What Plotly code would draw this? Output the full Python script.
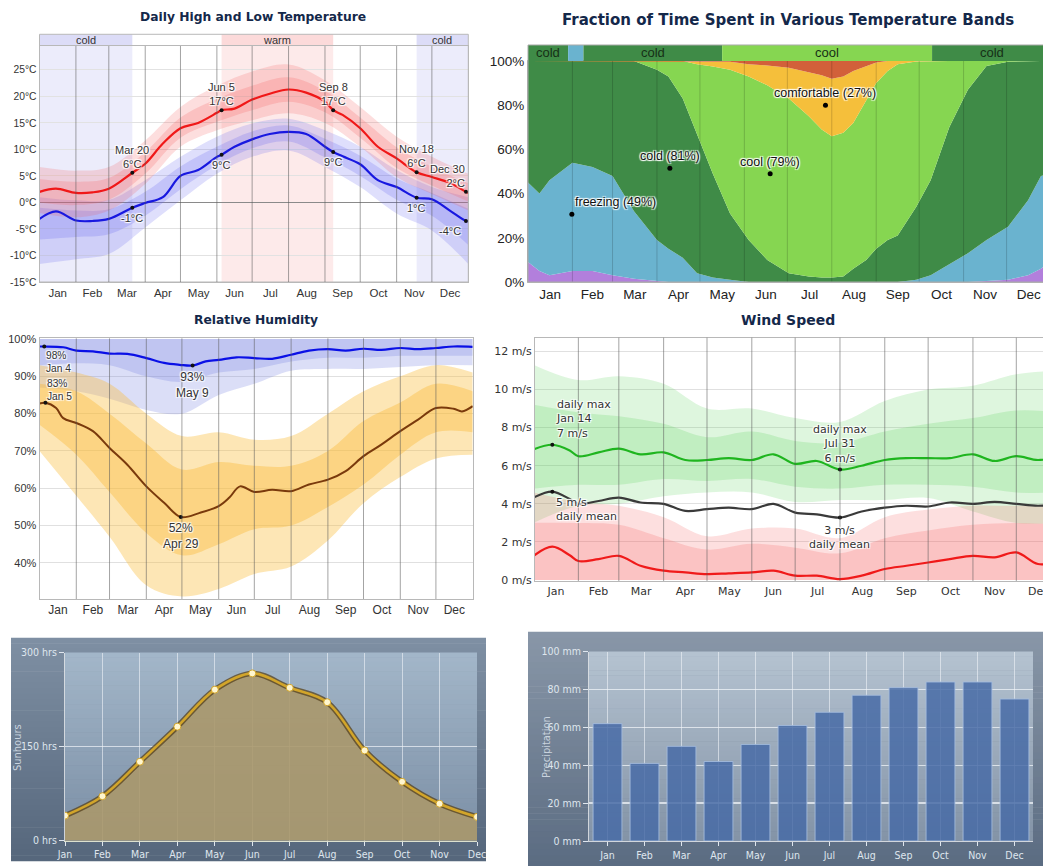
import plotly.graph_objects as go

W, H = 1051, 866

MONTHS = ["Jan", "Feb", "Mar", "Apr", "May", "Jun", "Jul", "Aug", "Sep", "Oct", "Nov", "Dec"]
month_start_days = [0, 31, 59, 90, 120, 151, 181, 212, 243, 273, 304, 334, 365]
month_mid_days = [15.5, 45, 74.5, 105, 135.5, 166, 196.5, 227.5, 258, 288.5, 319, 349.5]
band_days = [0, 31, 59, 90, 120, 151, 181, 212, 243, 273, 304, 334, 365]

# ---------------- Panel 1: daily high / low temperature ----------------
temp_ticks = [-15, -10, -5, 0, 5, 10, 15, 20, 25]
temp_tick_text = ["-15°C", "-10°C", "-5°C", "0°C", "5°C", "10°C", "15°C", "20°C", "25°C"]
temp_days = [0, 14, 31, 45, 59, 79, 90, 105, 120, 135, 151, 155, 166, 181, 196, 212, 227, 243, 250, 258, 273, 288, 304, 321, 334, 349, 363, 365]
temp_high = [2.0, 2.6, 1.8, 1.9, 2.6, 5.6, 7.3, 11.1, 14.0, 15.0, 16.9, 17.4, 17.7, 19.4, 20.5, 21.3, 20.7, 19.0, 17.4, 16.5, 14.0, 10.5, 8.3, 5.7, 4.8, 3.7, 2.0, 1.8]
temp_low = [-3.1, -1.7, -3.4, -3.5, -3.1, -1.0, -0.1, 1.0, 5.0, 6.1, 8.6, 9.0, 10.5, 11.9, 12.9, 13.3, 12.9, 10.5, 9.5, 8.7, 7.2, 4.2, 2.9, 0.9, 0.6, -1.5, -3.5, -3.5]
high_p10 = [-2.0, -2.8, -1.5, 3.5, 10.5, 13.6, 15.5, 16.8, 15.0, 10.5, 4.8, 1.6, -1.5]
high_p25 = [0.0, -0.5, 0.5, 5.4, 12.2, 15.2, 17.4, 19.0, 17.0, 12.2, 6.5, 3.2, 0.2]
high_p75 = [4.4, 3.9, 4.6, 9.5, 16.0, 19.5, 22.0, 23.6, 21.0, 16.0, 10.4, 6.7, 3.6]
high_p90 = [6.7, 6.0, 6.7, 11.7, 18.0, 22.0, 24.7, 26.0, 23.0, 18.0, 12.4, 8.6, 5.4]
low_p10 = [-11.6, -10.7, -9.7, -4.7, 0.4, 5.4, 8.6, 9.8, 6.7, 2.9, -2.1, -5.3, -11.6]
low_p25 = [-7.0, -6.5, -6.0, -2.5, 2.5, 7.0, 10.2, 11.5, 8.5, 5.0, 0.5, -2.5, -8.0]
low_p75 = [-1.0, -1.5, -1.3, 2.0, 6.8, 10.5, 13.4, 14.5, 12.0, 8.8, 4.5, 1.8, -1.2]
low_p90 = [1.0, 0.4, 0.5, 4.2, 8.6, 12.4, 14.9, 15.8, 13.6, 10.5, 6.1, 2.9, 1.0]
temp_season_labels = ["cold", "warm", "cold"]
temp_season_start = [0, 155, 321]
temp_season_end = [79, 250, 365]
temp_note_days = [79, 155, 250, 321, 363]
temp_note_dates = ["Mar 20", "Jun 5", "Sep 8", "Nov 18", "Dec 30"]
temp_note_high = [5.6, 17.4, 17.4, 5.7, 2.0]
temp_note_high_text = ["6°C", "17°C", "17°C", "6°C", "2°C"]
temp_note_low = [-1.0, 9.0, 9.5, 0.9, -3.5]
temp_note_low_text = ["-1°C", "9°C", "9°C", "1°C", "-4°C"]

# ---------------- Panel 2: fraction of time in temperature bands ----------------
frac_days = [0, 8, 15, 31, 45, 59, 74, 90, 98, 108, 118, 129, 141, 154, 167, 182, 196, 205, 212, 220, 227, 236, 243, 251, 258, 271, 281, 294, 307, 320, 335, 349, 358, 365]
frac_frigid = [9, 5, 3, 5, 5, 3, 1.5, 0.5, 0, 0, 0, 0, 0, 0, 0, 0, 0, 0, 0, 0, 0, 0, 0, 0, 0, 0, 0, 0, 0, 0.5, 1, 3, 6, 10]
frac_freezing = [45, 40, 46, 54, 52, 48, 32, 19, 15, 11, 4, 2, 1, 0, 0, 0, 0, 0, 0, 0, 0, 0, 0, 0, 0, 1, 3, 8, 13, 19, 25, 37, 48, 49]
frac_cold = [100, 100, 100, 100, 100, 100, 100, 96, 93, 83, 67, 49, 31, 19, 10, 4, 2.5, 2, 2, 2.5, 6, 10, 15, 19, 21, 34, 46, 70, 87, 97.7, 99.7, 100, 100, 100]
frac_cool = [100, 100, 100, 100, 100, 100, 100, 100, 100, 100, 98.5, 97.5, 96, 93, 89, 83, 75, 69, 66, 67.5, 72, 82, 90, 95.5, 98.5, 99.8, 100, 100, 100, 100, 100, 100, 100, 100]
frac_comfortable = [100, 100, 100, 100, 100, 100, 100, 100, 100, 100, 100, 100, 99.7, 98.5, 98, 97, 95, 93.5, 92, 93, 95.5, 97.5, 99.3, 100, 100, 100, 100, 100, 100, 100, 100, 100, 100, 100]
frac_strip_labels = ["cold", "", "cold", "cool", "cold"]
frac_strip_bands = ["cold", "freezing", "cold", "cool", "cold"]
frac_strip_start = [0, 28, 38.7, 135.5, 282]
frac_strip_end = [28, 38.7, 135.5, 282, 365]
frac_note_days = [30.6, 99, 169, 207.6]
frac_note_vals = [30.6, 51.5, 49, 80]
frac_note_text = ["freezing (49%)", "cold (81%)", "cool (79%)", "comfortable (27%)"]

# ---------------- Panel 3: relative humidity ----------------
hum_high_days = [0, 4, 20, 31, 45, 59, 74, 90, 105, 118, 129, 140, 151, 166, 181, 196, 212, 227, 243, 258, 273, 288, 304, 319, 334, 349, 365]
hum_high = [98.0, 98.0, 97.8, 96.9, 96.7, 96.1, 96.0, 94.9, 93.6, 93.1, 92.9, 94.0, 94.4, 95.1, 94.9, 94.7, 95.8, 96.9, 97.3, 96.9, 97.4, 97.1, 97.6, 97.3, 97.6, 98.0, 97.9]
hum_low_days = [0, 5, 14, 20, 31, 45, 59, 74, 90, 105, 119, 135, 151, 160, 169, 181, 196, 212, 227, 243, 258, 273, 288, 304, 319, 334, 349, 356, 365]
hum_low = [82.7, 82.9, 81.5, 78.8, 77.5, 75.3, 70.8, 66.3, 60.5, 56.1, 52.3, 53.4, 55.2, 57.5, 60.5, 59.0, 59.6, 59.2, 61.0, 62.3, 64.6, 68.6, 71.7, 75.3, 78.4, 81.5, 81.3, 80.6, 82.0]
hum_high_top = [100, 100, 100, 100, 100, 100, 100, 100, 100, 100, 100, 100, 100]
hum_high_inner_lo = [93, 93.5, 93, 90, 88.5, 91, 92, 94, 95, 95, 95.5, 95.5, 95.5]
hum_high_outer_lo = [87, 86, 84, 81, 80, 85, 88, 91.5, 92, 92, 92.5, 93, 93]
hum_low_outer_hi = [93, 91, 88, 80, 74, 75, 73, 74, 80, 86, 90, 93, 91]
hum_low_inner_hi = [88, 86, 80, 72, 65, 67, 66, 66, 70, 78, 83, 88, 86]
hum_low_inner_lo = [77, 69, 59, 48, 42, 45, 49, 50, 55, 61, 69, 75, 75]
hum_low_outer_lo = [70, 58, 47, 34, 31, 33, 37, 39, 46, 56, 63, 68, 69]
hum_high_note_days = [4, 129]
hum_high_note_vals = [98.0, 92.9]
hum_high_note_text = ["98%<br>Jan 4", "93%<br>May 9"]
hum_low_note_days = [5, 119]
hum_low_note_vals = [82.9, 52.3]
hum_low_note_text = ["83%<br>Jan 5", "52%<br>Apr 29"]

# ---------------- Panel 4: wind speed ----------------
wind_days = [0, 13, 25, 31, 45, 59, 74, 90, 105, 120, 135, 151, 166, 181, 196, 212, 227, 243, 258, 273, 288, 304, 319, 334, 349, 365]
wind_max = [6.86, 7.1, 6.8, 6.5, 6.7, 6.9, 6.6, 6.7, 6.3, 6.3, 6.4, 6.3, 6.6, 6.1, 6.25, 5.8, 6.0, 6.3, 6.4, 6.4, 6.4, 6.6, 6.25, 6.5, 6.3, 6.5]
wind_mean = [4.33, 4.64, 4.25, 4.0, 4.15, 4.33, 4.07, 4.0, 3.63, 3.72, 3.8, 3.72, 4.0, 3.54, 3.45, 3.28, 3.6, 3.8, 3.9, 3.86, 4.07, 4.0, 4.1, 4.0, 3.9, 4.0]
wind_min = [1.27, 1.75, 1.3, 1.0, 1.1, 1.27, 0.75, 0.49, 0.4, 0.31, 0.35, 0.4, 0.49, 0.23, 0.23, 0.05, 0.23, 0.58, 0.75, 0.92, 1.1, 1.27, 1.19, 1.45, 0.84, 1.0]
wind_max_p90 = [11.3, 10.5, 10.7, 10.3, 9.0, 9.0, 8.5, 8.3, 9.4, 10.0, 10.2, 10.8, 11.0]
wind_max_p75 = [9.2, 8.8, 8.6, 8.2, 7.5, 7.8, 7.3, 7.2, 7.8, 8.2, 8.5, 8.9, 8.8]
wind_max_p25 = [4.8, 5.0, 5.0, 5.3, 5.2, 5.3, 4.9, 4.8, 5.0, 5.0, 4.9, 4.6, 4.6]
wind_max_p10 = [3.0, 3.9, 4.0, 4.4, 4.6, 4.6, 4.1, 4.2, 4.2, 4.3, 3.6, 3.0, 3.0]
wind_min_p90 = [4.6, 4.1, 3.9, 3.3, 2.3, 2.7, 2.7, 2.2, 3.3, 3.7, 3.9, 3.9, 4.0]
wind_min_p75 = [3.0, 3.0, 2.9, 2.2, 1.6, 1.9, 1.7, 1.4, 2.2, 2.6, 2.9, 3.0, 2.9]
wind_min_p0 = [0, 0, 0, 0, 0, 0, 0, 0, 0, 0, 0, 0, 0]
wind_note_days = [13, 212]
wind_note_max = [7.1, 5.8]
wind_note_max_text = ["daily max<br>Jan 14<br>7 m/s", "daily max<br>Jul 31<br>6 m/s"]
wind_note_mean = [4.64, 3.28]
wind_note_mean_text = ["5 m/s<br>daily mean", "3 m/s<br>daily mean"]

# ---------------- Panel 5 / 6: sunshine hours & precipitation ----------------
sun_hours = [40, 71, 126, 182, 241, 267, 244, 221, 144, 94, 59, 38]
precip_mm = [62, 41, 50, 42, 51, 61, 68, 77, 81, 84, 84, 75]

# ======================================================================
fig = go.Figure()
shapes = []
annotations = []

OFF = 8  # page offset of the plot div inside the browser window


def fx(p):
    return (p - OFF) / W


def fy(p):
    return 1 - (p - OFF) / H


HALO = "1px 1px 1px #fff, -1px -1px 1px #fff, 1px -1px 1px #fff, -1px 1px 1px #fff"
SANS = "Liberation Sans, Arial, sans-serif"
VERD = "DejaVu Sans, Verdana, sans-serif"
NARROW = "Liberation Sans Narrow, DejaVu Sans Condensed, sans-serif"


def add_band(xs, lo, hi, color, xa, ya, shape="spline"):
    fig.add_trace(go.Scatter(x=xs, y=lo, mode="lines", line=dict(width=0, shape=shape),
                             hoverinfo="skip", xaxis=xa, yaxis=ya))
    fig.add_trace(go.Scatter(x=xs, y=hi, mode="lines", line=dict(width=0, shape=shape),
                             fill="tonexty", fillcolor=color, hoverinfo="skip", xaxis=xa, yaxis=ya))


def add_line(xs, ys, color, width, xa, ya, shape="spline"):
    fig.add_trace(go.Scatter(x=xs, y=ys, mode="lines", line=dict(color=color, width=width, shape=shape),
                             hoverinfo="skip", xaxis=xa, yaxis=ya))


def add_dots(xs, ys, xa, ya, size=4, color="#111"):
    fig.add_trace(go.Scatter(x=xs, y=ys, mode="markers", marker=dict(size=size, color=color),
                             hoverinfo="skip", xaxis=xa, yaxis=ya))


def note(x, y, text, xr, yr, xanchor="center", yanchor="bottom", xshift=0, yshift=0,
         size=11, family=SANS, color="#333", halo=True, align="center"):
    f = dict(size=size, family=family, color=color)
    if halo:
        f["shadow"] = HALO
    annotations.append(dict(x=x, y=y, xref=xr, yref=yr, text=text, showarrow=False,
                            xanchor=xanchor, yanchor=yanchor, xshift=xshift, yshift=yshift,
                            font=f, align=align, borderpad=0))


def month_lines(xr, yr, color):
    for d in month_start_days[1:-1]:
        shapes.append(dict(type="line", xref=xr, yref=yr + " domain", x0=d, x1=d, y0=0, y1=1,
                           line=dict(color=color, width=1), layer="above"))


def hex_rgb(h):
    h = h.lstrip("#")
    return tuple(int(h[i:i + 2], 16) for i in (0, 2, 4))


def gradient(x0, x1, y0, y1, ctop, cbot, xref, yref, n=40):
    a, b = hex_rgb(ctop), hex_rgb(cbot)
    step = (y1 - y0) / n
    for i in range(n):
        t = (i + 0.5) / n
        c = tuple(round(a[k] + (b[k] - a[k]) * t) for k in range(3))
        top = y1 - step * i
        bot = y1 - step * (i + 1)
        shapes.append(dict(type="rect", xref=xref, yref=yref, x0=x0, x1=x1,
                           y0=bot - step * 0.05, y1=top + step * 0.05,
                           fillcolor="rgb(%d,%d,%d)" % c, line=dict(width=0), layer="below"))


def title(text, cx, cy, size=12):
    annotations.append(dict(x=fx(cx), y=fy(cy), xref="paper", yref="paper", text=text, showarrow=False,
                            xanchor="center", yanchor="middle",
                            font=dict(size=size, family=VERD, color="#14284a", weight="bold")))

# ---------------- Panel 1 traces ----------------
STRIP1 = 1.0496
for lab, s, e in zip(temp_season_labels, temp_season_start, temp_season_end):
    bg = "#ececfb" if lab == "cold" else "#fdeaea"
    sc = "#dcdcf7" if lab == "cold" else "#fcdada"
    shapes.append(dict(type="rect", xref="x", yref="y domain", x0=s, x1=e, y0=0, y1=1,
                       fillcolor=bg, line=dict(width=0), layer="below"))
    shapes.append(dict(type="rect", xref="x", yref="y domain", x0=s, x1=e, y0=1, y1=STRIP1,
                       fillcolor=sc, line=dict(width=0), layer="below"))
    note((s + e) / 2, (1 + STRIP1) / 2, lab, "x", "y domain", yanchor="middle", size=11, halo=False)
shapes.append(dict(type="rect", xref="x domain", yref="y domain", x0=0, x1=1, y0=0, y1=STRIP1,
                   line=dict(color="#b8b8b8", width=1), layer="above"))

add_band(band_days, low_p10, low_p90, "rgba(95,95,240,0.20)", "x", "y")
add_band(band_days, low_p25, low_p75, "rgba(95,95,240,0.22)", "x", "y")
add_band(band_days, high_p10, high_p90, "rgba(245,90,90,0.20)", "x", "y")
add_band(band_days, high_p25, high_p75, "rgba(245,90,90,0.22)", "x", "y")
add_line(temp_days, temp_high, "#f01818", 2.2, "x", "y")
add_line(temp_days, temp_low, "#1818e0", 2.2, "x", "y")
add_dots(temp_note_days, temp_note_high, "x", "y")
add_dots(temp_note_days, temp_note_low, "x", "y")
month_lines("x", "y", "rgba(90,90,90,0.55)")
last = len(temp_note_days) - 1
for i, (d, hv, lv) in enumerate(zip(temp_note_days, temp_note_high, temp_note_low)):
    xa = "right" if i == last else "center"
    note(d, hv, temp_note_dates[i] + "<br>" + temp_note_high_text[i], "x", "y",
         xanchor=xa, yanchor="bottom", yshift=2, align="right" if i == last else "center")
    note(d, lv, temp_note_low_text[i], "x", "y", xanchor=xa, yanchor="top",
         yshift=-3, xshift=-4 if i == last else 0)
title("Daily High and Low Temperature", 253, 17, size=12.3)

# ---------------- Panel 2 traces ----------------
FR_COL = {"frigid": "#b27fdc", "freezing": "#6ab3cf", "cold": "#3f8b47",
          "cool": "#86d651", "comfortable": "#f5bf3b", "warm": "#d2603a"}
fig.add_trace(go.Scatter(x=frac_days, y=frac_frigid, mode="lines", line=dict(width=0),
                         fill="tozeroy", fillcolor=FR_COL["frigid"], hoverinfo="skip", xaxis="x2", yaxis="y2"))
for arr, key in [(frac_freezing, "freezing"), (frac_cold, "cold"), (frac_cool, "cool"),
                 (frac_comfortable, "comfortable"), ([100 for _ in frac_days], "warm")]:
    fig.add_trace(go.Scatter(x=frac_days, y=arr, mode="lines", line=dict(width=0),
                             fill="tonexty", fillcolor=FR_COL[key], hoverinfo="skip", xaxis="x2", yaxis="y2"))
add_dots(frac_note_days, frac_note_vals, "x2", "y2", size=5, color="#000")
month_lines("x2", "y2", "rgba(0,0,0,0.17)")
STRIP2 = 1.0724
for lab, band, s, e in zip(frac_strip_labels, frac_strip_bands, frac_strip_start, frac_strip_end):
    shapes.append(dict(type="rect", xref="x2", yref="y2 domain", x0=s, x1=e, y0=1, y1=STRIP2,
                       fillcolor=FR_COL[band], line=dict(width=0), layer="above"))
    if lab:
        note((s + e) / 2, (1 + STRIP2) / 2, lab, "x2", "y2 domain", yanchor="middle",
             size=13, color="#163016", halo=False)
shapes.append(dict(type="rect", xref="x2 domain", yref="y2 domain", x0=0, x1=1, y0=0, y1=STRIP2,
                   line=dict(color="#aaaaaa", width=1), layer="above"))
for i, (d, v, t) in enumerate(zip(frac_note_days, frac_note_vals, frac_note_text)):
    if i == 0:
        note(d, v, t, "x2", "y2", xanchor="left", yanchor="bottom", xshift=2, yshift=4,
             size=12.5, color="#111")
    else:
        note(d, v, t, "x2", "y2", xanchor="center", yanchor="bottom", yshift=4, size=12.5, color="#111")
title("Fraction of Time Spent in Various Temperature Bands", 788, 20, size=15)

# ---------------- Panel 3 traces ----------------
add_band(band_days, hum_high_outer_lo, hum_high_top, "rgba(110,125,225,0.25)", "x3", "y3")
add_band(band_days, hum_high_inner_lo, hum_high_top, "rgba(110,125,225,0.25)", "x3", "y3")
add_band(band_days, hum_low_outer_lo, hum_low_outer_hi, "rgba(250,190,60,0.38)", "x3", "y3")
add_band(band_days, hum_low_inner_lo, hum_low_inner_hi, "rgba(250,185,50,0.38)", "x3", "y3")
add_line(hum_high_days, hum_high, "#0a10e6", 2.2, "x3", "y3")
add_line(hum_low_days, hum_low, "#7a3a0c", 2.0, "x3", "y3")
add_dots(hum_high_note_days, hum_high_note_vals, "x3", "y3")
add_dots(hum_low_note_days, hum_low_note_vals, "x3", "y3")
month_lines("x3", "y3", "rgba(90,90,90,0.55)")
note(hum_high_note_days[0], hum_high_note_vals[0], hum_high_note_text[0], "x3", "y3",
     xanchor="left", yanchor="top", xshift=1, yshift=-2, size=10.2, align="left")
note(hum_high_note_days[1], hum_high_note_vals[1], hum_high_note_text[1], "x3", "y3",
     xanchor="center", yanchor="top", yshift=-3, size=12)
note(hum_low_note_days[0], hum_low_note_vals[0], hum_low_note_text[0], "x3", "y3",
     xanchor="left", yanchor="bottom", xshift=1, yshift=0, size=10.2, align="left")
note(hum_low_note_days[1], hum_low_note_vals[1], hum_low_note_text[1], "x3", "y3",
     xanchor="center", yanchor="top", yshift=-3, size=12)
title("Relative Humidity", 256, 320, size=12.3)

# ---------------- Panel 4 traces ----------------
add_band(band_days, wind_max_p10, wind_max_p90, "rgba(90,210,90,0.20)", "x4", "y4")
add_band(band_days, wind_max_p25, wind_max_p75, "rgba(90,210,90,0.22)", "x4", "y4")
add_band(band_days, wind_min_p0, wind_min_p90, "rgba(245,95,95,0.20)", "x4", "y4")
add_band(band_days, wind_min_p0, wind_min_p75, "rgba(245,95,95,0.22)", "x4", "y4")
add_line(wind_days, wind_max, "#1fb51f", 2.2, "x4", "y4")
add_line(wind_days, wind_mean, "#3a3a3a", 2.2, "x4", "y4")
add_line(wind_days, wind_min, "#f01a1a", 2.2, "x4", "y4")
add_dots(wind_note_days, wind_note_max, "x4", "y4")
add_dots(wind_note_days, wind_note_mean, "x4", "y4")
month_lines("x4", "y4", "rgba(90,90,90,0.55)")
note(wind_note_days[0], wind_note_max[0], wind_note_max_text[0], "x4", "y4",
     xanchor="left", yanchor="bottom", xshift=3, yshift=4, family=VERD, size=11, align="left")
note(wind_note_days[1], wind_note_max[1], wind_note_max_text[1], "x4", "y4",
     xanchor="center", yanchor="bottom", yshift=4, family=VERD, size=11)
note(wind_note_days[0], wind_note_mean[0], wind_note_mean_text[0], "x4", "y4",
     xanchor="left", yanchor="top", xshift=3, yshift=-3, family=VERD, size=11, align="left")
note(wind_note_days[1], wind_note_mean[1], wind_note_mean_text[1], "x4", "y4",
     xanchor="center", yanchor="top", yshift=-5, family=VERD, size=11)
title("Wind Speed", 788, 320, size=14)

# ---------------- Panel 5: sunshine hours ----------------
gradient(fx(11), fx(486), fy(861), fy(638), "#7f90a3", "#55667c", "paper", "paper")
gradient(0, 1, 0, 1, "#a3b6c9", "#7b8fa5", "x5 domain", "y5 domain")
fig.add_trace(go.Scatter(x=MONTHS, y=sun_hours, mode="lines", line=dict(width=0, shape="spline"),
                         fill="tozeroy", fillcolor="rgba(170,152,108,0.9)", hoverinfo="skip",
                         xaxis="x5", yaxis="y5"))
fig.add_trace(go.Scatter(x=MONTHS, y=sun_hours, mode="lines",
                         line=dict(width=5.5, shape="spline", color="rgba(85,66,30,0.75)"),
                         hoverinfo="skip", xaxis="x5", yaxis="y5"))
fig.add_trace(go.Scatter(x=MONTHS, y=sun_hours, mode="lines+markers",
                         line=dict(width=2.6, shape="spline", color="#d2a52a"),
                         marker=dict(size=7, color="#fff6cf", line=dict(color="#d2a52a", width=1)),
                         hoverinfo="skip", xaxis="x5", yaxis="y5"))
annotations.append(dict(x=fx(17), y=fy(748), xref="paper", yref="paper", text="Sunhours",
                        textangle=-90, showarrow=False, xanchor="center", yanchor="middle",
                        font=dict(size=11, family=NARROW, color="#c9d3de")))

# ---------------- Panel 6: precipitation ----------------
gradient(fx(528), 1, 0, fy(632), "#8997a8", "#596a80", "paper", "paper")
gradient(0, 1, 0, 1, "#b5c3d1", "#8393a6", "x6 domain", "y6 domain")
fig.add_trace(go.Bar(x=MONTHS, y=precip_mm, width=0.78,
                     marker=dict(color="rgba(70,106,166,0.84)", line=dict(color="rgba(165,188,222,0.85)", width=1)),
                     hoverinfo="skip", xaxis="x6", yaxis="y6"))
annotations.append(dict(x=fx(546), y=fy(747), xref="paper", yref="paper", text="Precipitation",
                        textangle=-90, showarrow=False, xanchor="center", yanchor="middle",
                        font=dict(size=11, family=NARROW, color="#c9d3de")))

# ---------------- Axes ----------------
def day_xaxis(dom, rng, anchor, size, family, color="#333"):
    return dict(domain=dom, range=rng, anchor=anchor, tickmode="array", tickvals=month_mid_days,
                ticktext=MONTHS, showgrid=False, zeroline=False, ticks="", showline=True, mirror=True,
                linecolor="#b8b8b8", tickfont=dict(size=size, family=family, color=color),
                fixedrange=True, automargin=False)

BOTTOM_FONT = dict(size=10.5, family=NARROW, color="#dfe6ee")

fig.update_layout(
    width=W, height=H, margin=dict(l=0, r=0, t=0, b=0, autoexpand=False),
    paper_bgcolor="white", plot_bgcolor="rgba(0,0,0,0)", showlegend=False,
    xaxis=day_xaxis([fx(39.5), fx(468.3)], [0, 365], "y", 11.5, SANS),
    yaxis=dict(domain=[fy(282), fy(46)], range=[-15, 29.5], anchor="x",
               tickmode="array", tickvals=temp_ticks, ticktext=temp_tick_text,
               showgrid=True, gridcolor="#e2e2e2", zeroline=True, zerolinecolor="#8a8a8a", zerolinewidth=1,
               showline=True, mirror=True, linecolor="#b8b8b8", automargin=False,
               tickfont=dict(size=10.3, family=SANS, color="#333")),
    xaxis2=day_xaxis([fx(528), fx(1051)], [0, 365], "y2", 13.5, SANS, "#222"),
    yaxis2=dict(domain=[fy(282), fy(61)], range=[0, 100], anchor="x2", dtick=20, ticksuffix="%",
                showgrid=False, zeroline=False, showline=True, mirror=True, linecolor="#aaaaaa",
                automargin=False, tickfont=dict(size=13.5, family=SANS, color="#222")),
    xaxis3=day_xaxis([fx(39.5), fx(472.7)], [0, 365], "y3", 12, SANS),
    yaxis3=dict(domain=[fy(599), fy(338.3)], range=[30.3, 100.2], anchor="x3", dtick=10, tick0=0,
                ticksuffix="%", showgrid=True, gridcolor="#e0e0e0", zeroline=False,
                showline=True, mirror=True, linecolor="#b8b8b8", automargin=False,
                tickfont=dict(size=11, family=SANS, color="#333")),
    xaxis4=day_xaxis([fx(535), fx(1051)], [1, 358], "y4", 11, VERD),
    yaxis4=dict(domain=[fy(581), fy(337.7)], range=[-0.05, 12.72], anchor="x4", dtick=2, tick0=0,
                ticksuffix=" m/s", showgrid=True, gridcolor="#e0e0e0", zeroline=False,
                showline=True, mirror=True, linecolor="#b8b8b8", automargin=False,
                tickfont=dict(size=11, family=VERD, color="#333")),
    xaxis5=dict(domain=[fx(65), fx(477)], anchor="y5", type="category", range=[0, 11],
                showgrid=True, gridcolor="rgba(240,244,248,0.6)", gridwidth=1, zeroline=False,
                ticks="outside", ticklen=4, tickcolor="#dfe6ee", showline=True,
                linecolor="rgba(235,238,215,0.9)", automargin=False, tickfont=BOTTOM_FONT),
    yaxis5=dict(domain=[fy(840.7), fy(652.7)], anchor="x5", range=[0, 300], dtick=150, tick0=0,
                ticksuffix=" hrs", showgrid=True, gridcolor="rgba(240,244,248,0.7)", gridwidth=1.5,
                zeroline=False, ticks="outside", ticklen=5, tickcolor="#dfe6ee",
                showline=True, linecolor="rgba(235,238,240,0.8)", automargin=False, tickfont=BOTTOM_FONT),
    xaxis6=dict(domain=[fx(589), fx(1033)], anchor="y6", type="category", range=[-0.5, 11.5],
                showgrid=True, gridcolor="rgba(240,244,248,0.6)", gridwidth=1, zeroline=False,
                ticks="outside", ticklen=4, tickcolor="#dfe6ee", showline=True,
                linecolor="rgba(235,238,240,0.8)", automargin=False, tickfont=BOTTOM_FONT),
    yaxis6=dict(domain=[fy(841), fy(651.7)], anchor="x6", range=[0, 100], dtick=20,
                ticksuffix=" mm", showgrid=True, gridcolor="rgba(240,244,248,0.75)", gridwidth=1.5,
                zeroline=False, ticks="outside", ticklen=5, tickcolor="#dfe6ee",
                showline=True, linecolor="rgba(235,238,240,0.8)", automargin=False, tickfont=BOTTOM_FONT),
    shapes=shapes, annotations=annotations,
)

fig.write_html("out.html", config={"displayModeBar": False, "staticPlot": True})
